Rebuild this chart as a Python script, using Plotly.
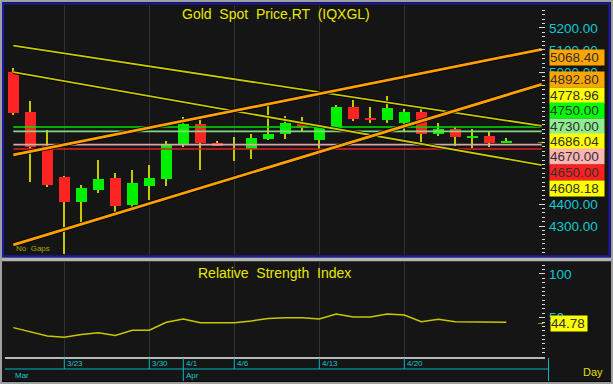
import plotly.graph_objects as go
import numpy as np

# ---------------- data ----------------
dates = ['3/18', '3/19', '3/20', '3/23', '3/24', '3/25', '3/26', '3/27', '3/30', '3/31',
         '4/1', '4/2', '4/3', '4/6', '4/7', '4/8', '4/9', '4/10', '4/13', '4/14',
         '4/15', '4/16', '4/17', '4/20', '4/21', '4/22', '4/23', '4/24', '4/27', '4/28']
opens  = [4999, 4817, 4664, 4524, 4410, 4464, 4517, 4395, 4482, 4512,
          4671, 4762, 4676, 4656, 4649, 4694, 4718, 4764, 4691, 4744,
          4842, 4792, 4782, 4767, 4820, 4718, 4740, 4703, 4710, 4679]
highs  = [5017, 4868, 4736, 4526, 4486, 4600, 4542, 4555, 4577, 4686,
          4794, 4795, 4686, 4706, 4718, 4850, 4800, 4797, 4755, 4850,
          4873, 4842, 4891, 4830, 4835, 4770, 4749, 4740, 4729, 4701]
lows   = [4805, 4501, 4476, 4175, 4309, 4451, 4355, 4380, 4418, 4482,
          4658, 4555, 4664, 4597, 4605, 4690, 4695, 4729, 4638, 4740,
          4777, 4770, 4767, 4729, 4673, 4709, 4664, 4656, 4660, 4677]
closes = [4812, 4660, 4486, 4410, 4471, 4512, 4391, 4494, 4517, 4668,
          4762, 4676, 4668, 4656, 4699, 4718, 4767, 4744, 4751, 4842,
          4786, 4782, 4835, 4820, 4718, 4740, 4703, 4710, 4679, 4686.04]
rsi = [38.6, 33.6, 29.1, 27.6, 30.8, 32.8, 29.6, 35.6, 35.6, 44.7,
       48.5, 44.3, 44.3, 44.3, 46.2, 49.1, 50.0, 50.0, 48.5, 54.2,
       50.8, 50.8, 54.2, 53.1, 45.4, 48.2, 45.4, 45.4, 45.4, 44.78]

# trendlines: values at start / end anchor positions
trend_x = [0, 31.08]
trend_orange_upper = [4623, 5103]
trend_orange_lower = [4214, 4944]
trend_yellow_upper = [5120, 4755]
trend_yellow_lower = [4999, 4577]

levels = [4750, 4730, 4670, 4650]
level_colors = ['#00e000', '#80d880', '#d8a8a8', '#d82020']

tag_texts = ['5068.40', '4892.80', '4778.96', '4750.00', '4730.00',
             '4686.04', '4670.00', '4650.00', '4608.18']
tag_colors = ['#ffa500', '#ffa500', '#ffff00', '#00ff00', '#90ee90',
              '#ffff00', '#ffb4b4', '#ff2020', '#ffff00']
tag_py = [57.2, 79.5, 95.0, 110.5, 126.0, 141.5, 157.0, 172.5, 188.0]

price_ticks = [4300, 4400, 5000, 5100, 5200]   # labels not hidden by the tags
price_major = [4200, 4300, 4400, 4500, 4600, 4700, 4800, 4900, 5000, 5100, 5200]
price_grid = [4200, 4400, 4600, 4800, 5000, 5200]
rsi_ticks = [50, 100]
rsi_last = '44.78'

date_ticks = ['3/23', '3/30', '4/1', '4/6', '4/13', '4/20']
grid_dates = ['3/23', '3/30', '4/6', '4/13', '4/20']
months = [('Mar', '3/18'), ('Apr', '4/1')]

# ---------------- geometry ----------------
W, H = 613, 384
L, R, T, B = 5, 68, 5, 27
PW, PH = W - L - R, H - T - B

def px_x(px):
    return (px - L) / PW

def px_y(py):
    return (H - B - py) / PH

BG = '#151515'
GRID = '#303030'
CYAN = '#10c8d0'
YEL = '#c8c800'
FONT = 'Liberation Sans, Arial, sans-serif'

idx = list(range(len(dates)))
xr = [-0.488, 31.276]

fig = go.Figure()

# wicks
fig.add_trace(go.Bar(x=idx, y=[h - l for h, l in zip(highs, lows)], base=lows,
                     width=0.09, marker=dict(color=YEL, line=dict(width=0)),
                     xaxis='x', yaxis='y', hoverinfo='skip', showlegend=False))
# bodies
fig.add_trace(go.Bar(x=idx, y=[abs(c - o) for o, c in zip(opens, closes)],
                     base=[min(o, c) for o, c in zip(opens, closes)],
                     width=0.62,
                     marker=dict(color=['#00f000' if c > o else '#ff2424' for o, c in zip(opens, closes)],
                                 line=dict(width=0)),
                     xaxis='x', yaxis='y', hoverinfo='skip', showlegend=False))

# horizontal levels
for lv, col in zip(levels, level_colors):
    fig.add_trace(go.Scatter(x=trend_x, y=[lv, lv], mode='lines',
                             line=dict(color=col, width=1.6),
                             xaxis='x', yaxis='y', hoverinfo='skip', showlegend=False))

# trendlines
for ys, col, wd in [(trend_yellow_upper, YEL, 1.8), (trend_yellow_lower, YEL, 1.8),
                    (trend_orange_upper, '#ffa000', 2.8), (trend_orange_lower, '#ffa000', 2.8)]:
    fig.add_trace(go.Scatter(x=trend_x, y=ys, mode='lines',
                             line=dict(color='#000000', width=wd + 1.6),
                             xaxis='x', yaxis='y', hoverinfo='skip', showlegend=False))
    fig.add_trace(go.Scatter(x=trend_x, y=ys, mode='lines',
                             line=dict(color=col, width=wd),
                             xaxis='x', yaxis='y', hoverinfo='skip', showlegend=False))

# RSI
fig.add_trace(go.Scatter(x=idx, y=rsi, mode='lines', line=dict(color=YEL, width=1.5),
                         xaxis='x2', yaxis='y2', hoverinfo='skip', showlegend=False))

price_range = [4170.5, 5304.5]
rsi_range = [5.0, 114.3]
price_dom = [px_y(254.5), 1]
rsi_dom = [0, px_y(261.5)]
grid_idx = [dates.index(d) for d in grid_dates]

minor_price = dict(tickmode='array', tickvals=list(range(4180, 5301, 20)),
                   ticks='inside', ticklen=3, tickcolor='#d8d8d8', showgrid=False)
minor_rsi = dict(tickmode='array', tickvals=list(range(10, 115, 5)),
                 ticks='inside', ticklen=3, tickcolor='#d8d8d8', showgrid=False)

fig.update_layout(
    width=W, height=H, margin=dict(l=L, r=R, t=T, b=B, pad=0),
    paper_bgcolor=BG, plot_bgcolor=BG, barmode='overlay', bargap=0,
    font=dict(family=FONT), showlegend=False,
    xaxis=dict(domain=[0, 1], range=xr, anchor='y', tickmode='array', tickvals=grid_idx,
               showticklabels=False, ticks='', showgrid=True, gridcolor=GRID, gridwidth=1,
               zeroline=False, showline=False, fixedrange=True),
    xaxis2=dict(domain=[0, 1], range=xr, anchor='y2', tickmode='array', tickvals=grid_idx,
                showticklabels=False, ticks='', showgrid=True, gridcolor=GRID, gridwidth=1,
                zeroline=False, showline=True, linecolor='#b8b8b8', linewidth=2, fixedrange=True),
    yaxis=dict(domain=price_dom, range=price_range, anchor='x', side='right',
               tickmode='array', tickvals=price_ticks,
               ticktext=['%.2f' % v for v in price_ticks],
               tickfont=dict(color=CYAN, size=13.5, family=FONT),
               ticks='inside', ticklen=6, tickcolor='#d8d8d8', ticklabelstandoff=3,
               minor=minor_price, showgrid=False, zeroline=False, showline=False),
    yaxis3=dict(overlaying='y', range=price_range, anchor='x', side='left',
                tickmode='array', tickvals=price_major, showticklabels=False,
                ticks='inside', ticklen=6, tickcolor='#e8e8e8', minor=minor_price,
                showgrid=False, zeroline=False,
                showline=True, linecolor='#e0e0e0', linewidth=2),
    yaxis5=dict(overlaying='y', range=price_range, anchor='x', side='right',
                tickmode='array', tickvals=price_grid, showticklabels=False, ticks='',
                showgrid=True, gridcolor=GRID, gridwidth=1, zeroline=False, showline=False),
    yaxis2=dict(domain=rsi_dom, range=rsi_range, anchor='x2', side='right',
                tickmode='array', tickvals=rsi_ticks, ticktext=[str(v) for v in rsi_ticks],
                tickfont=dict(color=CYAN, size=13.5, family=FONT),
                ticks='inside', ticklen=6, tickcolor='#d8d8d8', ticklabelstandoff=3,
                minor=minor_rsi, showgrid=False, zeroline=False, showline=False),
    yaxis4=dict(overlaying='y2', range=rsi_range, anchor='x2', side='left',
                tickmode='array', tickvals=rsi_ticks, showticklabels=False,
                ticks='inside', ticklen=6, tickcolor='#e8e8e8', minor=minor_rsi,
                showgrid=True, gridcolor=GRID, gridwidth=1, zeroline=False,
                showline=True, linecolor='#e0e0e0', linewidth=2),
)

ann = []
# titles
ann.append(dict(text='Gold \u00a0Spot \u00a0Price,RT \u00a0(IQXGL)', xref='paper', yref='paper',
                x=px_x(275.5), y=px_y(13.5), xanchor='center', yanchor='middle', showarrow=False,
                font=dict(color='#e8e800', size=14, family=FONT)))
ann.append(dict(text='Relative \u00a0Strength \u00a0Index', xref='paper', yref='paper',
                x=px_x(274), y=px_y(273), xanchor='center', yanchor='middle', showarrow=False,
                font=dict(color='#e8e800', size=14, family=FONT)))
ann.append(dict(text='No \u00a0Gaps', xref='paper', yref='paper', x=px_x(13.5), y=px_y(248.5),
                xanchor='left', yanchor='middle', showarrow=False,
                font=dict(color='#a8a800', size=8, family=FONT)))
ann.append(dict(text='Day', xref='paper', yref='paper', x=px_x(593), y=px_y(371.5),
                xanchor='center', yanchor='middle', showarrow=False,
                font=dict(color='#e0e000', size=11, family=FONT)))
# tags
for t, c, py in zip(tag_texts, tag_colors, tag_py):
    ann.append(dict(text=t, xref='paper', yref='paper', x=px_x(548.5), y=px_y(py),
                    xanchor='left', yanchor='middle', showarrow=False, align='left',
                    bgcolor=c, borderpad=0, width=54, height=15,
                    font=dict(color='#303030', size=13.5, family=FONT)))
ann.append(dict(text=rsi_last, xref='paper', yref='paper', x=px_x(549.5), y=px_y(323.3),
                xanchor='left', yanchor='middle', showarrow=False, align='left',
                bgcolor='#ffff00', borderpad=0, width=36, height=14.5,
                font=dict(color='#303030', size=13.5, family=FONT)))
# small last-value arrows
ann.append(dict(text='\u2192', xref='paper', yref='y', x=px_x(540), y=closes[-1],
                xanchor='center', yanchor='middle', showarrow=False,
                font=dict(color='#e8e800', size=9, family=FONT)))
ann.append(dict(text='\u2192', xref='paper', yref='y2', x=px_x(540), y=rsi[-1],
                xanchor='center', yanchor='middle', showarrow=False,
                font=dict(color='#e8e800', size=9, family=FONT)))
# date labels
for d in date_ticks:
    ann.append(dict(text=d, xref='x2', yref='paper', x=dates.index(d), y=px_y(364),
                    xanchor='left', yanchor='middle', xshift=1, showarrow=False,
                    font=dict(color=CYAN, size=8, family=FONT)))
for m, d in months:
    ann.append(dict(text=m, xref='x2', yref='paper', x=dates.index(d), y=px_y(375.5),
                    xanchor='left', yanchor='middle', xshift=1 if m == 'Apr' else 0,
                    showarrow=False, font=dict(color=CYAN, size=8, family=FONT)))

shapes = []
CY2 = '#00b8c0'
for d in date_ticks:
    bottom = 381 if d == '4/1' else 369
    shapes.append(dict(type='line', xref='x2', yref='paper', x0=dates.index(d), x1=dates.index(d),
                       y0=px_y(358), y1=px_y(bottom), line=dict(color=CY2, width=1)))
shapes.append(dict(type='line', xref='paper', yref='paper', x0=px_x(5), x1=px_x(548.5),
                   y0=px_y(369), y1=px_y(369), line=dict(color=CY2, width=1)))
shapes.append(dict(type='line', xref='paper', yref='paper', x0=px_x(548.5), x1=px_x(548.5),
                   y0=px_y(358), y1=px_y(381), line=dict(color=CY2, width=1)))
# separator between panels
shapes.append(dict(type='rect', xref='paper', yref='paper', x0=px_x(0), x1=px_x(613),
                   y0=px_y(257.5), y1=px_y(261.2), fillcolor='#b4b4b4', line=dict(width=0)))
# blue border of price panel
shapes.append(dict(type='rect', xref='paper', yref='paper', x0=px_x(3), x1=px_x(609.5),
                   y0=px_y(256.3), y1=px_y(3.5), line=dict(color='#1a1aa8', width=2)))
# outer gray frame
shapes.append(dict(type='rect', xref='paper', yref='paper', x0=px_x(1), x1=px_x(612),
                   y0=px_y(383), y1=px_y(1), line=dict(color='#a0a0a0', width=2)))
shapes.append(dict(type='line', xref='paper', yref='paper', x0=px_x(2), x1=px_x(611),
                   y0=px_y(381.5), y1=px_y(381.5), line=dict(color='#000000', width=1)))

fig.update_layout(annotations=ann, shapes=shapes)

fig.write_html('out.html', config={'displayModeBar': False})
